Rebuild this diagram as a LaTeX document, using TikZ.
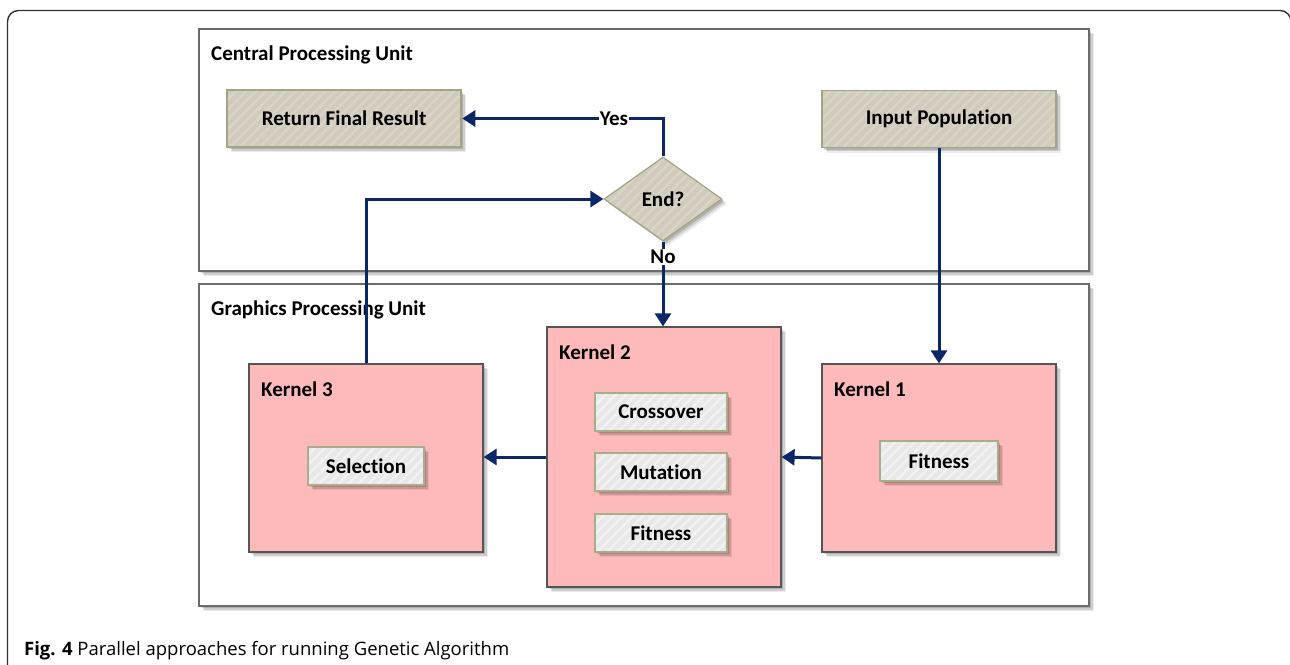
\documentclass[tikz,border=0pt]{standalone}
\usepackage{fontspec}
\setmainfont{Carlito}[Ligatures=NoCommon]
\newfontfamily\capfont{Open Sans}
\usetikzlibrary{arrows.meta,shapes.geometric,shadows,patterns.meta}

\definecolor{flow}{HTML}{0C2767}
\definecolor{unitedge}{HTML}{6B6B6B}
\definecolor{tanfill}{HTML}{D1CBBC}
\definecolor{tanedge}{HTML}{A3A484}
\definecolor{kfill}{HTML}{FEBABA}
\definecolor{kedge}{HTML}{555555}
\definecolor{opfill}{HTML}{E8E8E8}
\definecolor{opedge}{HTML}{A8AD8C}

\tikzset{
  x=1pt, y=-1pt,
  softshadow/.style={
    general shadow={shadow xshift=5pt,shadow yshift=-5pt,fill=black,opacity=.08},
    general shadow={shadow xshift=3.5pt,shadow yshift=-3.5pt,fill=black,opacity=.12},
    general shadow={shadow xshift=2pt,shadow yshift=-2pt,fill=black,opacity=.15}},
  % striped fill: plain colour underneath, light diagonal lines on top, border last
  striped/.style 2 args={preaction={fill=#1},
    pattern={Lines[angle=45,distance=7pt,line width=2.5pt]}, pattern color=#2},
  txt/.style={font=\fontsize{21}{24}\selectfont\bfseries, text=black},
  lbl/.style={txt, anchor=base west, inner sep=0pt},
  unitbox/.style={draw=unitedge, line width=1.6pt, fill=white, softshadow,
    minimum width=890pt, inner sep=0pt},
  tanstyle/.style={txt, draw=tanedge, line width=1.2pt, softshadow,
    striped={tanfill}{tanfill!82!white}, inner sep=0pt},
  tanbox/.style={tanstyle, minimum width=234pt, minimum height=57pt},
  kernel/.style={draw=kedge, line width=1.2pt, fill=kfill, softshadow,
    minimum width=234pt, inner sep=0pt},
  opbox/.style={txt, draw=opedge, line width=1.2pt, softshadow,
    striped={opfill}{opfill!55!white}, minimum height=38pt, inner sep=0pt},
  flowline/.style={draw=flow, line width=3pt, -{Triangle[length=13pt,width=16pt]}},
  answer/.style={txt, fill=white, inner sep=1pt},
}

\begin{document}
\begin{tikzpicture}
\useasboundingbox (0,0) rectangle (1290,664);
\clip (0,0) rectangle (1290,664);

% figure frame
\draw[line width=1.4pt, draw=black!80, rounded corners=11pt]
  (7.5,720) -- (7.5,10.5) -- (1291,10.5) -- (1291,720);

% processing units
\node[unitbox, minimum height=242pt] (cpu) at (644,150) {};
\node[unitbox, minimum height=322pt] (gpu) at (644,445) {};
\node[lbl] (cpulabel) at (211,60) {Central Processing Unit};
\node[lbl] (gpulabel) at (211,315) {Graphics Processing Unit};

% host-side steps
\node[tanbox] (ret) at (344,118.5) {Return Final Result};
\node[tanbox] (inp) at (939,119) {Input Population};
\node[tanstyle, diamond, minimum width=118pt, minimum height=84pt]
  (end) at (663,199) {End?};

% kernels
\node[kernel, minimum height=188pt] (k1) at (939,458) {};
\node[kernel, minimum height=260pt] (k2) at (664,457) {};
\node[kernel, minimum height=188pt] (k3) at (366,458) {};
\node[lbl] (k1label) at (834,396) {Kernel 1};
\node[lbl] (k2label) at (559,359) {Kernel 2};
\node[lbl] (k3label) at (261,396) {Kernel 3};

% kernel operations
\node[opbox, minimum width=118pt, minimum height=40pt] (fit1) at (939,461) {Fitness};
\node[opbox, minimum width=132pt] (cross) at (661,412) {Crossover};
\node[opbox, minimum width=132pt] (mut) at (661,472) {Mutation};
\node[opbox, minimum width=132pt] (fit2) at (661,533) {Fitness};
\node[opbox, minimum width=116pt] (sel) at (366,466) {Selection};

% control flow
\draw[flowline] (end.north) |- (ret.east);
\node[answer] (yes) at (614,119) {Yes};
\draw[flowline] (end.south) -- (end.south |- k2.north);
\node[answer] (no) at (663,257) {No};
\draw[flowline] (k3.north) |- (end.west);
\draw[flowline] (inp.south) -- (inp.south |- k1.north);
\draw[flowline] (k1.west) -- (k2.east);
\draw[flowline] (k2.west) -- (k2.west -| k3.east);

% caption
\node[anchor=base west, font=\capfont\fontsize{18.5}{22}\selectfont, inner sep=0pt] (caption)
  at (24,655) {\textbf{Fig. 4} Parallel approaches for running Genetic Algorithm};
\end{tikzpicture}
\end{document}
